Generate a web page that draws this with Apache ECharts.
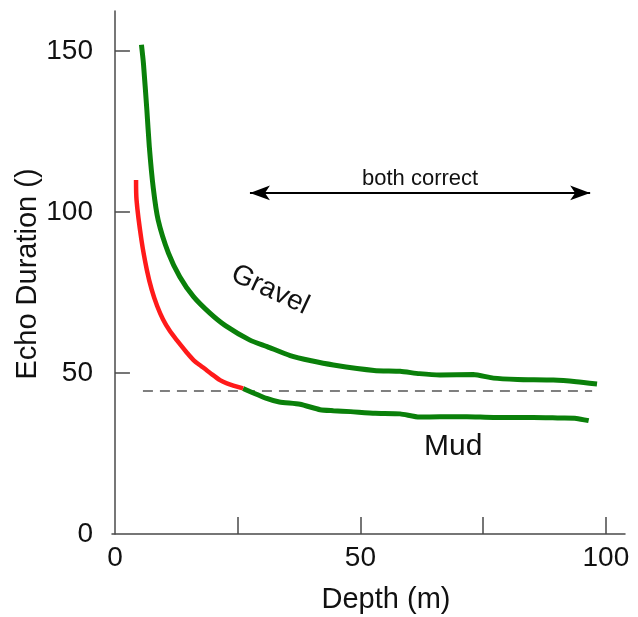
<!DOCTYPE html>
<html>
<head>
<meta charset="utf-8">
<script src="https://cdn.jsdelivr.net/npm/echarts@6/dist/echarts.min.js"></script>
<style>
  html, body { margin: 0; padding: 0; background: #fff; }
  #chart { width: 638px; height: 617px; }
</style>
</head>
<body>
<div id="chart"></div>
<script>
// Echo duration versus depth: gravel and mud returns
const gravel = [
  [5.4, 151.9], [5.8, 146.2], [6.5, 131.7], [7.0, 120.3], [7.8, 107.5], [8.8, 97.5],
  [10.9, 87.2], [13.2, 79.9], [16.0, 73.7], [19.4, 68.5], [22.5, 64.7], [27.5, 60.2],
  [31.0, 58.2], [35.7, 55.4], [40.0, 53.8], [44.5, 52.5], [52.8, 50.8], [58.1, 50.5],
  [62.0, 49.8], [66.2, 49.4], [73.0, 49.5], [77.1, 48.4], [82.0, 48.0], [89.3, 47.8],
  [94.0, 47.3], [98.2, 46.6]
];
// shallow part of the mud curve (drawn in red)
const mudShallow = [
  [4.3, 109.9], [4.4, 103.7], [5.4, 91.3], [6.5, 82.0], [7.5, 75.8], [8.6, 70.8],
  [9.8, 66.6], [11.2, 63.0], [12.8, 59.8], [14.5, 56.6], [16.0, 54.0], [17.6, 52.1],
  [19.4, 50.0], [21.4, 47.8], [22.8, 46.8], [26.1, 45.2]
];
// deeper part of the mud curve
const mudDeep = [
  [26.1, 45.2], [30.9, 42.1], [33.5, 41.0], [37.7, 40.3], [41.8, 38.6], [44.5, 38.3],
  [48.0, 38.0], [53.0, 37.5], [58.1, 37.3], [62.0, 36.3], [66.2, 36.4], [71.7, 36.4],
  [77.1, 36.2], [85.2, 36.2], [90.7, 36.0], [94.0, 35.9], [96.5, 35.2]
];
// horizontal reference level
const refLevel = 44.4;
const refRange = [5.7, 97.2];
// "both correct" range
const bothCorrectRange = [27.5, 96.8];
const bothCorrectLevel = 105.9;

const xTicks = [25, 50, 75, 100];
const xTickLabels = [0, 50, 100];
const yTicks = [50, 100, 150];
const yTickLabels = [0, 50, 100, 150];

const curveLabels = [
  { name: 'Gravel', value: [31.6, 75.8], rotate: -25, size: 28 },
  { name: 'Mud', value: [68.9, 27.0], rotate: 0, size: 30 }
];

const FONT = '"Liberation Sans", Arial, Helvetica, sans-serif';
const GREEN = '#0a800a';
const RED = '#ff1a1a';
const AXIS = '#4a4a4a';
const INK = '#111111';

const chart = echarts.init(document.getElementById('chart'), null, { renderer: 'canvas' });

chart.setOption({
  backgroundColor: '#ffffff',
  animation: false,
  grid: { left: 112, right: 13, top: 11, bottom: 83, containLabel: false },
  xAxis: {
    type: 'value',
    min: -0.6,
    max: 103.9,
    axisLine: { show: true, lineStyle: { color: AXIS, width: 1.5 } },
    axisTick: { show: true, inside: true, length: 17, customValues: xTicks, lineStyle: { color: AXIS, width: 1.5 } },
    axisLabel: { customValues: xTickLabels, margin: 10, fontSize: 28, color: INK, fontFamily: FONT },
    splitLine: { show: false }
  },
  yAxis: {
    type: 'value',
    min: 0,
    max: 162.4,
    axisLine: { show: true, lineStyle: { color: AXIS, width: 1.5 } },
    axisTick: { show: true, inside: true, length: 15, customValues: yTicks, lineStyle: { color: AXIS, width: 1.5 } },
    axisLabel: { customValues: yTickLabels, margin: 19, fontSize: 28, color: INK, fontFamily: FONT },
    splitLine: { show: false }
  },
  graphic: [
    {
      type: 'text', x: 386, y: 600,
      style: { text: 'Depth (m)', fontSize: 29, fontFamily: FONT, fill: INK, align: 'center', verticalAlign: 'middle' }
    },
    {
      type: 'text', x: 28, y: 274, rotation: Math.PI / 2,
      style: { text: 'Echo Duration ()', fontSize: 29, fontFamily: FONT, fill: INK, align: 'center', verticalAlign: 'middle' }
    }
  ],
  series: [
    {
      type: 'line', name: 'reference', data: [[refRange[0], refLevel], [refRange[1], refLevel]],
      symbol: 'none', lineStyle: { color: '#555', width: 1.5, type: [10, 7] }, z: 1
    },
    {
      type: 'line', name: 'Gravel', data: gravel, symbol: 'none', smooth: 0.2,
      lineStyle: { color: GREEN, width: 5 }, z: 3
    },
    {
      type: 'line', name: 'Mud deep', data: mudDeep, symbol: 'none', smooth: 0.2,
      lineStyle: { color: GREEN, width: 5 }, z: 3
    },
    {
      type: 'line', name: 'Mud shallow', data: mudShallow, symbol: 'none', smooth: 0.3,
      lineStyle: { color: RED, width: 4.5 }, z: 4
    },
    {
      type: 'scatter', name: 'labels', symbolSize: 0, silent: true,
      itemStyle: { opacity: 1 },
      data: curveLabels.map(d => ({
        name: d.name, value: d.value,
        label: { show: true, position: 'inside', formatter: '{b}', rotate: d.rotate,
          fontSize: d.size, fontFamily: FONT, color: INK, opacity: 1 }
      })),
      markLine: {
        silent: true, animation: false,
        symbol: ['arrow', 'arrow'], symbolSize: [11, 20],
        lineStyle: { color: '#000', width: 2, type: 'solid', opacity: 1 },
        label: { show: true, position: 'middle', formatter: 'both correct', distance: 3,
          fontSize: 22, fontFamily: FONT, color: INK },
        data: [[
          { coord: [bothCorrectRange[0], bothCorrectLevel] },
          { coord: [bothCorrectRange[1], bothCorrectLevel] }
        ]]
      }
    }
  ]
});
</script>
</body>
</html>
